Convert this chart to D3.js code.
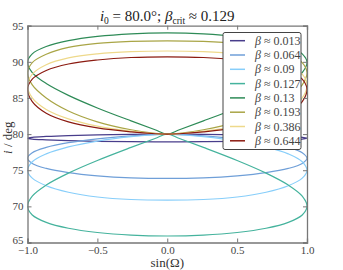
<!DOCTYPE html>
<html>
<head>
<meta charset="utf-8">
<script src="https://cdn.jsdelivr.net/npm/d3@7"></script>
<style>
body { margin: 0; background: #fff; }
text { font-family: "Liberation Serif", "DejaVu Serif", serif; }
</style>
</head>
<body>
<div id="chart"></div>
<script>
// node angle (deg) shared by all curves; x axis shows sin(Omega)
var omegaDeg = [0, 5, 15, 30, 45, 60, 75, 90, 105, 120, 135, 150, 165, 180,
                195, 210, 225, 240, 255, 270, 285, 300, 315, 330, 345, 355];

var betaLabels = ["0.013", "0.064", "0.09", "0.127", "0.13", "0.193", "0.386", "0.644"];

// inclination i (deg) along each curve
var inc013 = [80, 79.99, 79.96, 79.89, 79.8, 79.68, 79.56, 79.44, 79.31, 79.2, 79.09, 79.0, 78.95, 78.93,
              78.95, 79.0, 79.09, 79.2, 79.31, 79.44, 79.56, 79.68, 79.8, 79.89, 79.96, 79.99];
var inc064 = [80, 79.94, 79.76, 79.35, 78.81, 78.16, 77.43, 76.65, 75.94, 75.25, 74.67, 74.23, 73.95, 73.86,
              73.95, 74.23, 74.67, 75.25, 75.94, 76.65, 77.43, 78.16, 78.81, 79.35, 79.76, 79.94];
var inc09  = [80, 79.91, 79.64, 79.04, 78.23, 77.26, 76.17, 74.95, 73.9, 72.85, 71.95, 71.3, 70.95, 70.86,
              70.95, 71.3, 71.95, 72.85, 73.9, 74.95, 76.17, 77.26, 78.23, 79.04, 79.64, 79.91];
var inc127 = [80, 79.39, 78.16, 76.35, 74.6, 72.95, 71.42, 70.03, 68.81, 67.79, 66.97, 66.38, 66.02, 65.9,
              66.02, 66.38, 66.97, 67.79, 68.81, 70.03, 71.42, 72.95, 74.6, 76.35, 78.16, 79.39];
var inc13  = [80, 80.61, 81.83, 83.62, 85.36, 87.0, 88.52, 89.9, 91.11, 92.12, 92.93, 93.52, 93.88, 94.0,
              93.88, 93.52, 92.93, 92.12, 91.11, 89.9, 88.52, 87.0, 85.36, 83.62, 81.83, 80.61];
var inc193 = [80, 80.1, 80.6, 81.7, 83.2, 85.0, 86.8, 88.5, 89.9, 91.05, 92.0, 92.55, 92.82, 92.9,
              92.82, 92.55, 92.0, 91.05, 89.9, 88.5, 86.8, 85.0, 83.2, 81.7, 80.6, 80.1];
var inc386 = [80, 80.07, 80.4, 81.1, 82.1, 83.4, 85.0, 86.8, 88.3, 89.6, 90.55, 91.1, 91.4, 91.5,
              91.4, 91.1, 90.55, 89.6, 88.3, 86.8, 85.0, 83.4, 82.1, 81.1, 80.4, 80.07];
var inc644 = [80, 80.05, 80.3, 80.85, 81.7, 82.9, 84.5, 86.2, 87.6, 88.8, 89.7, 90.25, 90.6, 90.7,
              90.6, 90.25, 89.7, 88.8, 87.6, 86.2, 84.5, 82.9, 81.7, 80.85, 80.3, 80.05];

var xTicks = [-1.0, -0.5, 0.0, 0.5, 1.0];
var yTicks = [65, 70, 75, 80, 85, 90, 95];

var colors = ["#483d8b", "#6f9fd8", "#87cefa", "#45b39d", "#2e8b57", "#a9a546", "#eed98b", "#8b1a10"];
var series = [inc013, inc064, inc09, inc127, inc13, inc193, inc386, inc644];

var width = 343,
    height = 270,
    margin = {top: 25.7, right: 36, bottom: 27.5, left: 27.5};

var svg = d3.select("#chart")
  .append("svg")
    .attr("width", width)
    .attr("height", height);

var x = d3.scaleLinear().domain([-1, 1]).range([margin.left, width - margin.right]);
var y = d3.scaleLinear().domain([65, 95]).range([height - margin.bottom, margin.top]);

svg.append("clipPath").attr("id", "clip")
  .append("rect")
    .attr("x", x(-1)).attr("y", y(95))
    .attr("width", x(1) - x(-1)).attr("height", y(65) - y(95));

var line = d3.line()
  .x(function(d) { return x(Math.sin(d[0] * Math.PI / 180)); })
  .y(function(d) { return y(d[1]); })
  .curve(d3.curveCatmullRomClosed);

svg.append("g")
    .attr("clip-path", "url(#clip)")
  .selectAll("path")
  .data(series)
  .enter()
  .append("path")
    .attr("d", function(s) { return line(omegaDeg.map(function(o, k) { return [o, s[k]]; })); })
    .attr("fill", "none")
    .attr("stroke", function(s, k) { return colors[k]; })
    .attr("stroke-width", 1.2);

// axes, ticks pointing inwards on all four sides
var fmt = function(d) { return d3.format(".1f")(d).replace("-", "\u2212"); };

svg.append("g")
    .attr("transform", "translate(0," + y(65) + ")")
    .call(d3.axisBottom(x).tickValues(xTicks).tickFormat(fmt).tickSize(-4).tickPadding(3.5));
svg.append("g")
    .attr("transform", "translate(0," + y(95) + ")")
    .call(d3.axisTop(x).tickValues(xTicks).tickFormat("").tickSize(-4));
var gy = svg.append("g")
    .attr("transform", "translate(" + x(-1) + ",0)")
    .call(d3.axisLeft(y).tickValues(yTicks).tickSize(-4).tickPadding(4));
svg.append("g")
    .attr("transform", "translate(" + x(1) + ",0)")
    .call(d3.axisRight(y).tickValues(yTicks).tickFormat("").tickSize(-4));

svg.selectAll(".domain").attr("stroke", "#777").attr("stroke-width", 1.3);
svg.selectAll(".tick line").attr("stroke", "#777");
svg.selectAll(".tick text")
    .style("font-family", "Liberation Serif, serif")
    .style("font-size", "11px")
    .attr("fill", "#444");
// lowest y label sits just above the corner, as in the original
gy.selectAll(".tick text").filter(function(d) { return d === 65; }).attr("dy", "0.1em");

// title
var title = svg.append("text")
    .attr("x", x(0))
    .attr("y", 21)
    .attr("text-anchor", "middle")
    .style("font-size", "15px")
    .attr("fill", "#222");
title.append("tspan").style("font-style", "italic").text("i");
title.append("tspan").attr("dy", 3).style("font-size", "9.5px").text("0");
title.append("tspan").attr("dy", -3).text(" = 80.0°; ");
title.append("tspan").style("font-style", "italic").text("β");
title.append("tspan").attr("dy", 3).style("font-size", "9.5px").text("crit");
title.append("tspan").attr("dy", -3).text(" ≈ 0.129");

svg.append("text")
    .attr("x", x(0))
    .attr("y", 267)
    .attr("text-anchor", "middle")
    .style("font-size", "13px")
    .attr("fill", "#333")
    .text("sin(Ω)");

var ylab = svg.append("text")
    .attr("transform", "translate(11.5," + y(79.5) + ") rotate(-90)")
    .attr("text-anchor", "middle")
    .style("font-size", "13px")
    .attr("fill", "#333");
ylab.append("tspan").style("font-style", "italic").text("i");
ylab.append("tspan").text(" / deg");

// legend
var legend = svg.append("g").attr("transform", "translate(223,32.5)");
legend.append("rect")
    .attr("width", 78).attr("height", 117).attr("rx", 2)
    .attr("fill", "#fff").attr("stroke", "#444").attr("stroke-width", 1);

var rows = legend.selectAll(".row")
  .data(betaLabels)
  .enter()
  .append("g")
    .attr("transform", function(d, k) { return "translate(0," + (8.2 + k * 14.3) + ")"; });
rows.append("line")
    .attr("x1", 7).attr("x2", 22)
    .attr("stroke", function(d, k) { return colors[k]; })
    .attr("stroke-width", 1.5);
rows.append("text")
    .attr("x", 32).attr("y", 4)
    .style("font-size", "12px")
    .attr("fill", "#444")
    .each(function(d) {
      d3.select(this).append("tspan").style("font-style", "italic").text("β");
      d3.select(this).append("tspan").text(" ≈ " + d);
    });
</script>
</body>
</html>
